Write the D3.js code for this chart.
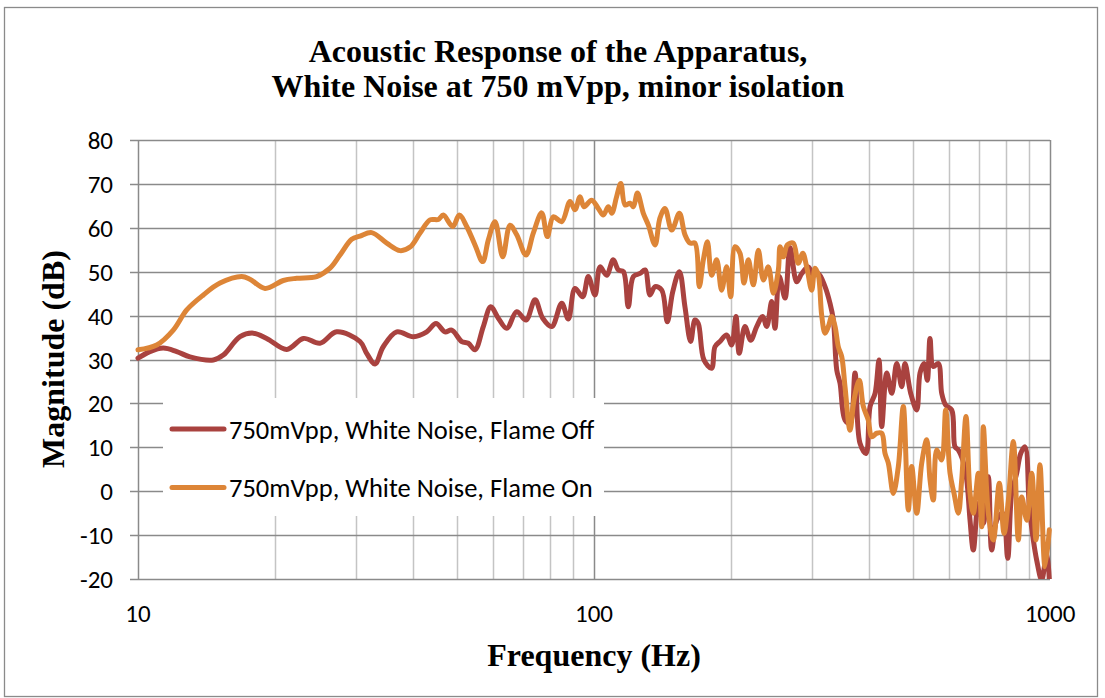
<!DOCTYPE html>
<html>
<head>
<meta charset="utf-8">
<script src="https://cdn.jsdelivr.net/npm/d3@7"></script>
<style>
  body { margin: 0; background: #fff; }
  svg { display: block; }
</style>
</head>
<body>
<div id="chart"></div>
<script>
// chart values (Hz, dB)
const titleLines = ["Acoustic Response of the Apparatus,", "White Noise at 750 mVpp, minor isolation"];
const xTicks = [10, 100, 1000];
const yTicks = [-20, -10, 0, 10, 20, 30, 40, 50, 60, 70, 80];
const seriesNames = ["750mVpp, White Noise, Flame Off", "750mVpp, White Noise, Flame On"];

const offFreq = [10.0, 10.62, 11.36, 12.16, 13.0, 14.63, 15.38, 16.74, 17.9, 19.15, 21.2, 23.05, 25.06, 27.27, 30.68, 31.73, 33.09, 34.5, 36.93, 40.17,
  42.97, 45.03, 47.12, 48.74, 51.28, 53.02, 54.83, 57.18, 59.37, 61.68, 64.36, 67.69, 70.95, 74.25, 77.2, 80.78, 84.97, 87.84, 90.85, 94.45,
  97.16, 100.5, 103.1, 106.6, 110.2, 113.1, 116.0, 118.9, 122.0, 126.2, 129.4, 132.7, 136.1, 140.8, 144.8, 148.8, 153.9, 158.3, 162.9, 166.5,
  169.3, 174.2, 181.1, 184.2, 188.9, 195.4, 200.4, 204.8, 208.2, 214.3, 220.6, 227.4, 234.4, 239.2, 245.3, 249.4, 254.9, 262.4, 269.1, 278.3,
  285.5, 295.1, 302.6, 310.4, 321.1, 329.3, 334.9, 340.7, 346.4, 355.2, 364.3, 373.6, 383.1, 395.0, 403.1, 413.4, 421.7, 427.5, 438.5, 449.7,
  461.2, 473.0, 480.8, 494.9, 510.2, 518.7, 529.3, 538.2, 545.6, 554.8, 569.0, 578.8, 590.6, 608.8, 619.0, 629.4, 643.6, 656.7, 667.8, 679.0,
  696.5, 714.2, 732.4, 745.0, 764.1, 787.7, 807.7, 824.1, 845.3, 862.5, 881.5, 900.8, 919.2, 934.9, 958.9, 983.5, 996.6];
const offDb = [30.3, 31.8, 32.6, 31.8, 30.6, 29.9, 31.0, 35.2, 36.0, 34.8, 32.3, 34.8, 33.7, 36.3, 34.1, 31.4, 29.0, 32.9, 36.3, 35.2,
  36.3, 38.2, 36.3, 36.7, 34.1, 33.7, 32.2, 37.5, 42.0, 39.4, 37.1, 40.9, 39.0, 43.6, 39.4, 37.5, 42.8, 39.2, 46.2, 44.3,
  48.9, 44.7, 51.1, 49.2, 52.7, 50.4, 50.0, 42.0, 48.9, 49.6, 50.4, 44.7, 46.6, 45.8, 38.6, 45.4, 50.0, 42.0, 34.1, 39.0,
  38.2, 29.9, 28.0, 32.9, 34.1, 35.6, 33.3, 39.8, 31.4, 37.5, 34.4, 37.5, 39.8, 37.5, 43.2, 37.1, 48.9, 44.0, 55.5, 47.7,
  49.6, 51.1, 49.2, 49.6, 46.6, 42.8, 39.0, 27.6, 24.6, 16.2, 15.5, 26.9, 10.9, 8.6, 19.3, 22.3, 29.9, 14.7, 26.9, 22.3,
  29.1, 23.8, 29.1, 22.3, 18.5, 26.9, 29.1, 25.3, 34.8, 28.4, 29.1, 22.3, 19.6, 18.5, 10.1, 9.4, 7.1, 2.6, -6.6, -13.4,
  -2.8, -7.3, 3.3, -13.4, -6.6, -5.0, -15.3, -0.5, 4.1, 8.6, 10.1, -3.5, -11.1, -15.7, -20.2, -14.1, -20.2];

const onFreq = [10.0, 10.99, 11.95, 12.79, 13.91, 15.13, 16.88, 17.6, 18.99, 20.83, 22.28, 24.65, 26.37, 27.73, 29.42, 30.68, 32.54, 35.12, 37.55, 39.5,
  41.54, 43.69, 45.57, 46.72, 48.99, 50.66, 52.58, 54.83, 57.0, 58.64, 60.66, 63.07, 65.44, 67.69, 70.95, 73.6, 76.8, 79.0, 81.42, 84.97,
  88.6, 90.85, 93.2, 95.08, 98.83, 102.2, 104.8, 107.5, 109.4, 112.1, 114.5, 117.0, 120.0, 122.0, 124.5, 128.3, 131.6, 136.1, 139.5, 143.1,
  148.1, 153.9, 158.3, 162.4, 166.5, 170.2, 173.7, 177.3, 181.1, 185.8, 190.5, 195.4, 199.4, 203.8, 209.0, 213.3, 218.0, 223.6, 229.3, 235.2,
  241.2, 247.4, 253.7, 255.9, 260.2, 265.5, 273.6, 280.5, 286.9, 292.7, 300.2, 305.2, 310.4, 315.7, 321.1, 326.5, 332.2, 337.8, 343.4, 349.4,
  355.2, 364.3, 371.7, 381.8, 389.6, 399.5, 406.4, 416.9, 427.5, 434.7, 442.0, 453.3, 464.9, 476.8, 489.0, 497.4, 510.2, 523.2, 536.6, 545.6,
  554.8, 564.3, 578.8, 590.6, 603.6, 616.0, 629.4, 640.3, 654.3, 667.8, 679.0, 696.5, 708.5, 714.2, 732.4, 751.2, 774.2, 793.0, 810.5, 831.1,
  852.2, 866.9, 889.2, 911.9, 931.9, 950.6, 975.0, 996.6];
const onDb = [32.2, 33.3, 36.7, 41.3, 44.7, 47.4, 48.9, 48.3, 46.2, 48.0, 48.5, 48.9, 50.8, 53.8, 57.4, 58.1, 58.9, 56.5, 54.8, 55.6,
  58.8, 61.8, 61.9, 62.9, 60.3, 62.9, 60.3, 56.1, 52.3, 57.2, 61.4, 53.4, 60.6, 58.4, 53.8, 58.8, 63.4, 58.0, 62.5, 61.4,
  66.0, 64.1, 67.1, 64.8, 66.3, 64.4, 62.9, 64.8, 63.3, 67.1, 70.1, 65.2, 65.6, 64.8, 67.9, 63.3, 60.6, 56.1, 62.2, 64.4,
  59.5, 63.3, 58.4, 56.5, 56.5, 46.6, 52.7, 56.8, 49.2, 52.7, 45.8, 51.1, 44.3, 55.7, 54.2, 47.4, 52.7, 47.0, 54.9, 48.1,
  51.1, 45.1, 50.4, 55.7, 53.4, 56.1, 56.5, 51.9, 54.2, 51.1, 45.8, 50.8, 49.2, 40.1, 36.0, 37.5, 39.8, 37.5, 32.9, 30.6,
  23.8, 13.9, 20.8, 25.3, 19.3, 16.2, 12.4, 13.2, 13.2, 8.6, 6.4, -0.5, 5.6, 19.3, -4.3, 5.6, -5.0, 6.4, 11.7, 2.6,
  -2.0, 9.4, 7.1, 18.5, 4.1, -0.5, -5.0, 2.6, 17.0, -0.5, -5.0, 4.1, -8.1, 14.7, -5.0, -11.1, 1.8, -9.6, -2.0, 11.3,
  -11.1, -1.3, -6.6, 4.1, -11.1, 6.0, -17.2, -8.8];

const seriesColors = ["#a9423f", "#dd8537"];

const W = 1105, H = 698;
const margin = { top: 140, right: 55, bottom: 119, left: 138 };
const plotW = W - margin.left - margin.right;
const plotH = H - margin.top - margin.bottom;

const svg = d3.select("#chart").append("svg")
  .attr("width", W)
  .attr("height", H);

// outer frame
svg.append("rect")
  .attr("x", 4.5).attr("y", 7.5)
  .attr("width", 1093).attr("height", 689)
  .attr("fill", "#fff")
  .attr("stroke", "#8a8a8a")
  .attr("stroke-width", 1.3);

const x = d3.scaleLog().domain([10, 1000]).range([margin.left, margin.left + plotW]);
const y = d3.scaleLinear().domain([-20, 80]).range([margin.top + plotH, margin.top]);

// vertical gridlines, minor ones lighter
const xGrid = d3.range(1, 3).flatMap((p) => d3.range(1, 10).map((k) => k * Math.pow(10, p))).concat([1000]);
svg.append("g").selectAll("line")
  .data(xGrid)
  .join("line")
  .attr("x1", (d) => Math.round(x(d)) + 0.5)
  .attr("x2", (d) => Math.round(x(d)) + 0.5)
  .attr("y1", y(80))
  .attr("y2", y(-20))
  .attr("stroke", (d) => (xTicks.includes(d) ? "#8a8a8a" : "#c4c4c4"))
  .attr("stroke-width", 1.5);

// horizontal gridlines with small tick stubs on the left
svg.append("g").selectAll("line")
  .data(yTicks)
  .join("line")
  .attr("x1", margin.left - 8)
  .attr("x2", margin.left + plotW)
  .attr("y1", (d) => Math.round(y(d)) + 0.5)
  .attr("y2", (d) => Math.round(y(d)) + 0.5)
  .attr("stroke", "#8a8a8a")
  .attr("stroke-width", 1.5);

const tickFont = "Calibri, Carlito, Lato, sans-serif";

svg.append("g").selectAll("text")
  .data(yTicks)
  .join("text")
  .attr("x", margin.left - 25)
  .attr("y", (d) => y(d))
  .attr("dy", "0.36em")
  .attr("text-anchor", "end")
  .attr("font-family", tickFont)
  .attr("font-size", 25)
  .attr("fill", "#000")
  .text((d) => d);

svg.append("g").selectAll("text")
  .data(xTicks)
  .join("text")
  .attr("x", (d) => x(d))
  .attr("y", 622)
  .attr("text-anchor", "middle")
  .attr("font-family", tickFont)
  .attr("font-size", 25)
  .attr("fill", "#000")
  .text((d) => d);

// titles
const serif = "'Liberation Serif', 'Times New Roman', serif";
svg.append("g").selectAll("text")
  .data(titleLines)
  .join("text")
  .attr("x", 558)
  .attr("y", (d, i) => 62 + i * 35)
  .attr("text-anchor", "middle")
  .attr("font-family", serif)
  .attr("font-weight", "bold")
  .attr("font-size", 32)
  .text((d) => d);

svg.append("text")
  .attr("x", x(100))
  .attr("y", 666)
  .attr("text-anchor", "middle")
  .attr("font-family", serif)
  .attr("font-weight", "bold")
  .attr("font-size", 32)
  .text("Frequency (Hz)");

svg.append("text")
  .attr("transform", "translate(64, 359) rotate(-90)")
  .attr("text-anchor", "middle")
  .attr("font-family", serif)
  .attr("font-weight", "bold")
  .attr("font-size", 32)
  .text("Magnitude (dB)");

// lines
svg.append("clipPath").attr("id", "plotClip")
  .append("rect")
  .attr("x", margin.left - 3).attr("y", margin.top - 3)
  .attr("width", plotW + 6).attr("height", plotH + 3);

const line = d3.line()
  .x((d) => x(d[0]))
  .y((d) => y(d[1]))
  .curve(d3.curveCatmullRom.alpha(0.5));

const series = [
  d3.zip(offFreq, offDb),
  d3.zip(onFreq, onDb)
];

svg.append("g")
  .attr("clip-path", "url(#plotClip)")
  .selectAll("path")
  .data(series)
  .join("path")
  .attr("fill", "none")
  .attr("stroke", (d, i) => seriesColors[i])
  .attr("stroke-width", 5)
  .attr("stroke-linejoin", "round")
  .attr("stroke-linecap", "round")
  .attr("d", line);

// legend
const legend = svg.append("g");
legend.append("rect")
  .attr("x", 163).attr("y", 398)
  .attr("width", 441).attr("height", 118)
  .attr("fill", "#fff");

const item = legend.selectAll("g")
  .data(seriesNames)
  .join("g")
  .attr("transform", (d, i) => `translate(0, ${429 + i * 58.5})`);

item.append("line")
  .attr("x1", 172).attr("x2", 224)
  .attr("stroke", (d, i) => seriesColors[i])
  .attr("stroke-width", 5)
  .attr("stroke-linecap", "round");

item.append("text")
  .attr("x", 229)
  .attr("dy", "0.36em")
  .attr("font-family", tickFont)
  .attr("font-size", 26.5)
  .text((d) => d);
</script>
</body>
</html>
